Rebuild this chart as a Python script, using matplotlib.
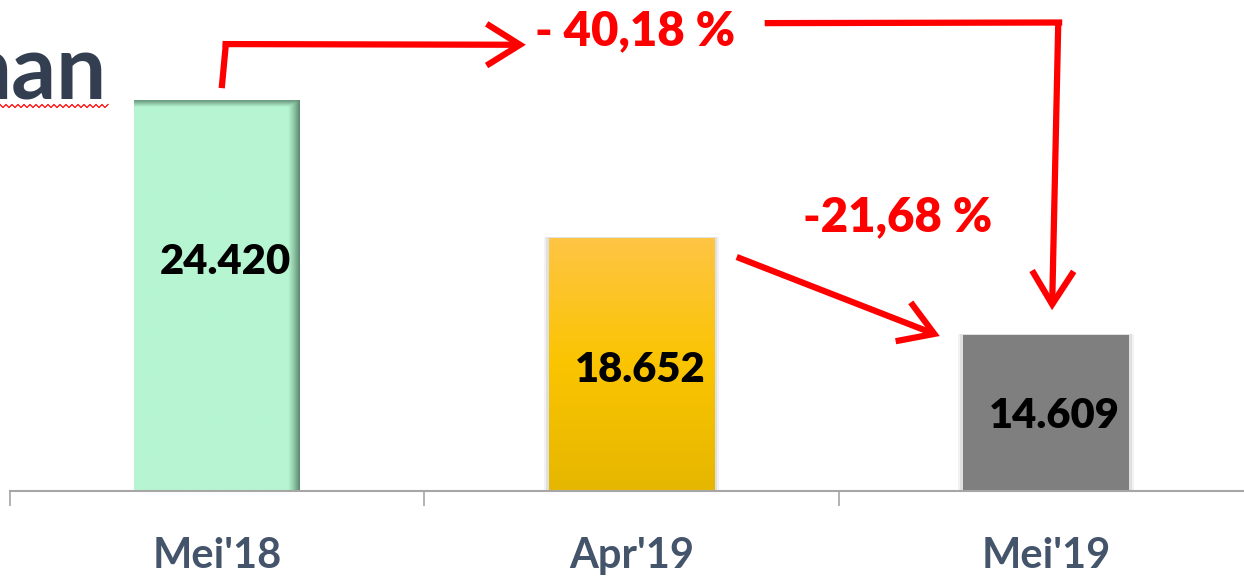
import numpy as np
import matplotlib
matplotlib.use("Agg")
import matplotlib.pyplot as plt
from matplotlib.colors import to_rgb
from matplotlib.patches import FancyArrowPatch

# data
periods = ["Mei'18", "Apr'19", "Mei'19"]
values = [24420, 18652, 14609]
value_labels = ["24.420", "18.652", "14.609"]
change_long = "- 40,18 %"
change_short = "-21,68 %"

plt.rcParams["font.family"] = ["Lato", "DejaVu Sans"]

W, H = 1244, 579
fig = plt.figure(figsize=(W / 100, H / 100), dpi=100)
ax = fig.add_axes([10 / W, 88 / H, 1243 / W, 491 / H])

Y_MIN, Y_MAX = 8100, 28600
BAR_W = 0.40
ax.set_xlim(-0.5, 2.5)
ax.set_ylim(Y_MIN, Y_MAX)

x = np.arange(len(periods))

# soft shadows behind the bars
for grow, alpha in [(0.024, 0.05), (0.014, 0.07)]:
    ax.bar(x[1:], np.array(values[1:]) + 40, width=BAR_W + grow,
           color="#000000", alpha=alpha, zorder=1)

bars = ax.bar(x, values, width=BAR_W, color="none", zorder=2)


def fill_gradient(patch, img):
    x0 = patch.get_x()
    x1 = x0 + patch.get_width()
    top = patch.get_height()
    im = ax.imshow(img, extent=[x0, x1, Y_MIN, top], aspect="auto",
                   origin="upper", zorder=2, interpolation="bilinear")
    im.set_clip_path(patch)


# green bar: flat colour with darker inner edge on right and top
n = 200
base = np.array(to_rgb("#B6F5D1"))
dark = np.array(to_rgb("#5E8A70"))
cols = np.linspace(0, 1, n)
rows = np.linspace(0, 1, n)
w_right = np.clip((cols - 0.93) / 0.07, 0, 1) ** 1.2
w_top = np.clip((0.015 - rows) / 0.015, 0, 1)
w = np.maximum(w_right[None, :], w_top[:, None] * 0.8)
img_green = base[None, None, :] * (1 - w[..., None]) + dark[None, None, :] * w[..., None]
fill_gradient(bars[0], img_green)

# gold bar: vertical gradient
top_c = np.array(to_rgb("#FFC545"))
mid_c = np.array(to_rgb("#FAC400"))
bot_c = np.array(to_rgb("#E6B700"))
t = np.linspace(0, 1, n)[:, None]
grad = np.where(t < 0.5, top_c * (1 - t * 2) + mid_c * (t * 2),
                mid_c * (1 - (t - 0.5) * 2) + bot_c * ((t - 0.5) * 2))
img_gold = np.repeat(grad[:, None, :], 10, axis=1)
fill_gradient(bars[1], img_gold)

# grey bar
bars[2].set_facecolor("#7F7F7F")

# value labels (placed inside the bars)
label_y = [17650, 13150, 11230]
for xi, yi, lab in zip(x, label_y, value_labels):
    ax.text(xi + 0.02, yi, lab, ha="center", va="center", fontsize=30,
            fontweight="heavy", color="black", zorder=5)

# axis styling
for s in ["left", "right", "top"]:
    ax.spines[s].set_visible(False)
ax.spines["bottom"].set_color("#A6A6A6")
ax.spines["bottom"].set_linewidth(1.5)
ax.set_yticks([])
ax.set_xticks(x)
ax.set_xticklabels(periods, fontsize=30, fontweight="bold", color="#44546A")
ax.tick_params(axis="x", which="major", length=0, pad=33)
ax.set_xticks([-0.5, 0.5, 1.5], minor=True)
ax.tick_params(axis="x", which="minor", length=11, width=1.2, color="#A6A6A6")

# red annotations
RED = "#FF0000"
LW = 4.5
arrow_style = "->,head_length=0.8,head_width=0.5"
MS = 30
ax.plot([0.011, 0.021], [24920, 26760], color=RED, lw=LW, solid_capstyle="butt",
        zorder=6, clip_on=False)
a1 = FancyArrowPatch((0.013, 26760), (0.745, 26730), arrowstyle=arrow_style,
                     mutation_scale=MS, color=RED, lw=LW, zorder=6, clip_on=False,
                     shrinkA=0, shrinkB=0, joinstyle="miter", capstyle="butt")
ax.add_patch(a1)
ax.text(0.766, 27300, change_long, ha="left", va="center", fontsize=34,
        fontweight="heavy", color=RED, zorder=6, clip_on=False)

ax.plot([1.329, 2.032], [27635, 27660], color=RED, lw=LW, solid_capstyle="projecting",
        zorder=6, clip_on=False)
a2 = FancyArrowPatch((2.030, 27660), (2.015, 15650), arrowstyle=arrow_style,
                     mutation_scale=MS, color=RED, lw=LW, zorder=6, clip_on=False,
                     shrinkA=0, shrinkB=0, joinstyle="miter", capstyle="butt")
ax.add_patch(a2)

a3 = FancyArrowPatch((1.254, 17870), (1.744, 14570), arrowstyle=arrow_style,
                     mutation_scale=MS, color=RED, lw=LW, zorder=6, clip_on=False,
                     shrinkA=0, shrinkB=0, joinstyle="miter", capstyle="butt")
ax.add_patch(a3)
ax.text(1.642, 19540, change_short, ha="center", va="center", fontsize=34,
        fontweight="heavy", color=RED, zorder=6, clip_on=False)

# clipped slide title in the top left corner
fig.text(107 / W, 1 - 100 / H, "nan", ha="right", va="baseline", fontsize=64,
         fontweight="bold", color="#333F50")
sx = np.arange(0, 111, 3.0)
sy = 106 + np.where(np.arange(len(sx)) % 2 == 0, -1.5, 1.5)
fig.add_artist(plt.Line2D(sx / W, 1 - sy / H, color=RED, lw=0.9))

fig.savefig("out.png", dpi=100)
